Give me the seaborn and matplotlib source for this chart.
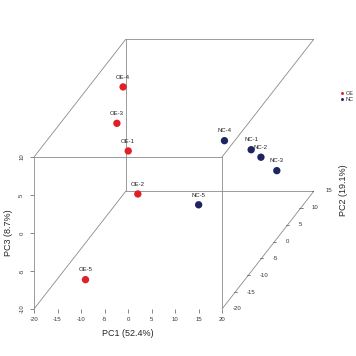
import numpy as np
import pandas as pd
import matplotlib
matplotlib.use("Agg")
import matplotlib.pyplot as plt
import seaborn as sns

# ── Data (PCA scores) ─────────────────────────────────────────────────────────
samples = ["OE-1", "OE-2", "OE-3", "OE-4", "OE-5",
           "NC-1", "NC-2", "NC-3", "NC-4", "NC-5"]
groups  = ["OE"] * 5 + ["NC"] * 5
pc1 = [-8.9, -3.5, -16.9, -16.7, -12.4, 13.9, 17.1, 18.8, 7.1, 7.2]
pc2 = [-4, -10, 6, 8, -14, 2, 0, 3, 4, -6]
pc3 = [3.7, 0.7, 2.9, 6.8, -8.8, 1.2, 1.1, -2.0, 1.5, -2.5]

x_ticks = list(range(-20, 21, 5))
y_ticks = list(range(-20, 16, 5))
z_ticks = list(range(-10, 11, 5))
x_label = "PC1 (52.4%)"
y_label = "PC2 (19.1%)"
z_label = "PC3 (8.7%)"

PALETTE = {"OE": "#E01F26", "NC": "#1E2461"}

# ── Oblique projection (scatterplot3d style) ──────────────────────────────────
XMIN, XMAX = x_ticks[0], x_ticks[-1]
YMIN, YMAX = y_ticks[0], y_ticks[-1]
ZMIN, ZMAX = z_ticks[0], z_ticks[-1]
AX = 19.57 / (YMAX - YMIN)   # depth shift in x units per y unit
AZ = 15.53 / (YMAX - YMIN)   # depth shift in z units per y unit


def proj(x, y, z):
    t = np.asarray(y, dtype=float) - YMIN
    return np.asarray(x, dtype=float) + AX * t, np.asarray(z, dtype=float) + AZ * t


df = pd.DataFrame({"Sample": samples, "Group": groups,
                   "PC1": pc1, "PC2": pc2, "PC3": pc3})
df["px"], df["pz"] = proj(df["PC1"], df["PC2"], df["PC3"])

# ── Figure ────────────────────────────────────────────────────────────────────
sns.set_style("white")
plt.rcParams["font.family"] = ["Liberation Sans", "DejaVu Sans"]
plt.rcParams["axes.unicode_minus"] = False

W = 356
fig = plt.figure(figsize=(3.56, 3.56), dpi=100)
ax = fig.add_axes([34 / W, (W - 309) / W, 280 / W, 270 / W])
ax.set_xlim(XMIN, XMAX + AX * (YMAX - YMIN))
ax.set_ylim(ZMIN, ZMAX + AZ * (YMAX - YMIN))
for s in ax.spines.values():
    s.set_visible(False)

# box
lc = dict(color="#8a8a8a", lw=0.6, zorder=1)
front = [(XMIN, YMIN, ZMIN), (XMAX, YMIN, ZMIN), (XMAX, YMIN, ZMAX), (XMIN, YMIN, ZMAX)]
back = [(x, YMAX, z) for x, _, z in front]
for a, b in [(front[0], front[1]), (front[1], front[2]), (front[2], front[3]),
             (front[3], front[0]), (back[0], back[1]), (back[1], back[2]),
             (back[2], back[3]), (back[3], back[0]),
             (front[0], back[0]), (front[1], back[1]), (front[2], back[2]),
             (front[3], back[3])]:
    p, q = proj([a[0], b[0]], [a[1], b[1]], [a[2], b[2]])
    ax.plot(p, q, **lc)

# x / z ticks on the front face
ax.set_xticks(x_ticks)
ax.set_yticks(z_ticks)
ax.set_yticklabels([str(v) for v in z_ticks], rotation=90, va="center")
ax.tick_params(axis="both", direction="out", length=3, width=0.5,
               color="#555555", labelsize=4.3, labelcolor="#333333")
ax.tick_params(axis="x", pad=3, bottom=True)
ax.tick_params(axis="y", pad=4, left=True)

# depth (PC2) ticks along the lower-right edge
for v in y_ticks:
    px, pz = proj([XMAX], [v], [ZMIN])
    ax.plot([px[0] - 0.35, px[0] + 0.35], [pz[0], pz[0]], color="#555555",
            lw=0.5, zorder=1)
    ax.annotate(str(v), (px[0], pz[0]), xytext=(8, 0), textcoords="offset points",
                fontsize=4.3, color="#333333", ha="left", va="center",
                annotation_clip=False)

# ── Points ────────────────────────────────────────────────────────────────────
sns.scatterplot(data=df, x="px", y="pz", hue="Group", palette=PALETTE,
                hue_order=["OE", "NC"], s=28, edgecolor="none", ax=ax,
                zorder=3, clip_on=False)
for _, r in df.iterrows():
    ax.annotate(r["Sample"], (r["px"], r["pz"]), xytext=(0, 7),
                textcoords="offset points", ha="center", va="center",
                fontsize=4.3, color="#222222")

ax.set_xlabel("")
ax.set_ylabel("")
ax.legend(loc="center left", bbox_to_anchor=(336 / W, 1 - 96.5 / W),
          bbox_transform=fig.transFigure, frameon=False, fontsize=4,
          markerscale=0.4, handletextpad=-0.2, labelspacing=0.25,
          borderpad=0, borderaxespad=0)

# axis titles
fig.text(128 / W, 1 - 333 / W, x_label, ha="center", va="center", fontsize=6.5)
fig.text(9 / W, 1 - 233 / W, z_label, ha="center", va="center", fontsize=6.5,
         rotation=90)
fig.text(343 / W, 1 - 190 / W, y_label, ha="center", va="center", fontsize=6.5,
         rotation=90)

fig.savefig("out.png", dpi=100)
